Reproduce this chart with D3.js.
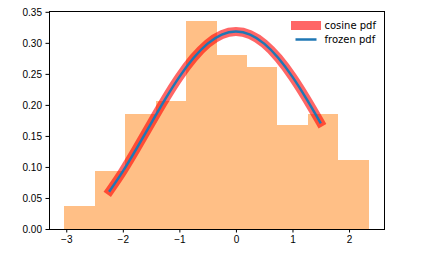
<!DOCTYPE html>
<html>
<head>
<meta charset="utf-8">
<script src="https://cdn.jsdelivr.net/npm/d3@7"></script>
<style>
  body { margin: 0; background: #fff; }
  svg { display: block; font-family: "DejaVu Sans", sans-serif; }
  .axis text { font-size: 10px; fill: #000; }
  .axis path, .axis line { stroke: #000; stroke-width: 1; }
</style>
</head>
<body>
<div id="chart"></div>
<script>
// histogramme (densité) - bords des classes et hauteurs
const binEdges = [-3.036, -2.4975, -1.959, -1.4205, -0.882, -0.3435, 0.195, 0.7335, 1.272, 1.8105, 2.349];
const binDensity = [0.0372, 0.0938, 0.1859, 0.2058, 0.3346, 0.2797, 0.2603, 0.1681, 0.1859, 0.1115];

// courbe pdf (x, y)
const pdfX = [-2.23, -2.0, -1.75, -1.5, -1.25, -1.0, -0.75, -0.5, -0.25, 0, 0.25, 0.5, 0.75, 1.0, 1.25, 1.49];
const pdfY = [0.0617, 0.0929, 0.1308, 0.1704, 0.2093, 0.2452, 0.2756, 0.2988, 0.3134, 0.3183, 0.3134, 0.2988, 0.2756, 0.2452, 0.2093, 0.1720];

const xTicks = [-3, -2, -1, 0, 1, 2];
const yTicks = [0, 0.05, 0.10, 0.15, 0.20, 0.25, 0.30, 0.35];
const legendLabels = ['cosine pdf', 'frozen pdf'];

const width = 428;
const height = 253;
const margin = { top: 11, right: 44, bottom: 24, left: 49 };

const svg = d3.select('#chart')
    .append('svg')
    .attr('width', width)
    .attr('height', height);

svg.append('rect')
    .attr('width', width)
    .attr('height', height)
    .attr('fill', '#fff');

// marges à la matplotlib (5 %)
const x0 = binEdges[0];
const x1 = binEdges[binEdges.length - 1];
const padX = (x1 - x0) * 0.05;
const yMax = d3.max(binDensity) * 1.05;

const x = d3.scaleLinear()
    .domain([x0 - padX, x1 + padX])
    .range([margin.left, width - margin.right]);

const y = d3.scaleLinear()
    .domain([0, yMax])
    .range([height - margin.bottom, margin.top]);

// barres
const bins = binDensity.map((d, i) => ({ a: binEdges[i], b: binEdges[i + 1], v: d }));

svg.append('g')
    .selectAll('rect')
    .data(bins)
    .enter()
    .append('rect')
    .attr('x', d => x(d.a))
    .attr('width', d => x(d.b) - x(d.a))
    .attr('y', d => y(d.v))
    .attr('height', d => y(0) - y(d.v))
    .attr('fill', '#ff7f0e')
    .attr('fill-opacity', 0.5)
    .attr('shape-rendering', 'crispEdges');

// courbes
const pts = pdfX.map((v, i) => [v, pdfY[i]]);
const line = d3.line()
    .x(d => x(d[0]))
    .y(d => y(d[1]))
    .curve(d3.curveNatural);

svg.append('path')
    .attr('d', line(pts))
    .attr('fill', 'none')
    .attr('stroke', 'red')
    .attr('stroke-opacity', 0.6)
    .attr('stroke-width', 9)
    .attr('stroke-linecap', 'square');

svg.append('path')
    .attr('d', line(pts))
    .attr('fill', 'none')
    .attr('stroke', '#1f77b4')
    .attr('stroke-width', 2.5)
    .attr('stroke-linecap', 'square');

// axes
const xAxis = d3.axisBottom(x)
    .tickValues(xTicks)
    .tickFormat(d3.format('d'))
    .tickSize(3.5)
    .tickPadding(3.5)
    .tickSizeOuter(0);

const yAxis = d3.axisLeft(y)
    .tickValues(yTicks)
    .tickFormat(d3.format('.2f'))
    .tickSize(3.5)
    .tickPadding(3.5)
    .tickSizeOuter(0);

svg.append('g')
    .attr('class', 'axis')
    .attr('transform', `translate(0, ${height - margin.bottom})`)
    .call(xAxis)
    .call(g => g.select('.domain').remove());

svg.append('g')
    .attr('class', 'axis')
    .attr('transform', `translate(${margin.left}, 0)`)
    .call(yAxis)
    .call(g => g.select('.domain').remove());

// cadre
svg.append('rect')
    .attr('x', margin.left)
    .attr('y', margin.top)
    .attr('width', width - margin.left - margin.right)
    .attr('height', height - margin.top - margin.bottom)
    .attr('fill', 'none')
    .attr('stroke', '#000')
    .attr('stroke-width', 1)
    .attr('shape-rendering', 'crispEdges');

// légende
const legend = svg.append('g').attr('transform', 'translate(295.5, 0)');
const legendStyles = [
    { stroke: 'red', opacity: 0.6, w: 9, y: 25.5 },
    { stroke: '#1f77b4', opacity: 1, w: 2.5, y: 39.5 }
];

legendStyles.forEach((s, i) => {
    legend.append('line')
        .attr('x1', 0)
        .attr('x2', 21)
        .attr('y1', s.y)
        .attr('y2', s.y)
        .attr('stroke', s.stroke)
        .attr('stroke-opacity', s.opacity)
        .attr('stroke-width', s.w)
        .attr('stroke-linecap', i === 0 ? 'square' : 'butt');

    legend.append('text')
        .attr('x', 29)
        .attr('y', s.y)
        .attr('dy', '0.35em')
        .style('font-size', '10px')
        .style('fill', '#000')
        .text(legendLabels[i]);
});
</script>
</body>
</html>
